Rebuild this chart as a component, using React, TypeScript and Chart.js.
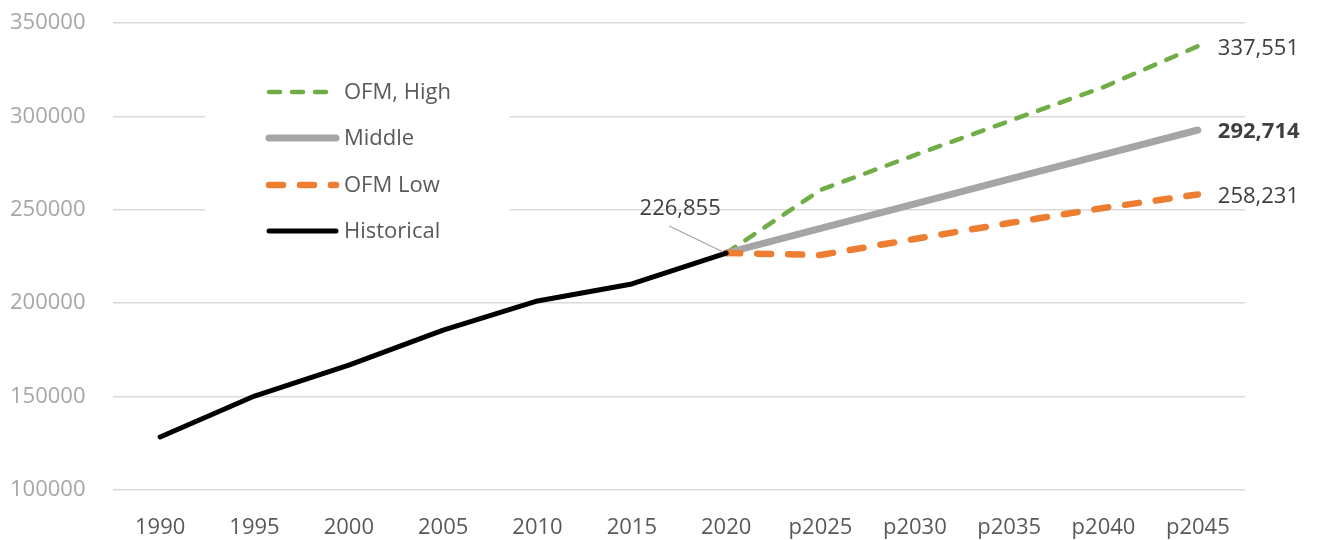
import React, { useEffect, useRef } from "react";
import { Chart, registerables } from "chart.js";
Chart.register(...registerables);

const years = ["1990", "1995", "2000", "2005", "2010", "2015", "2020", "p2025", "p2030", "p2035", "p2040", "p2045"];
const historical = [128400, 150300, 166900, 185600, 201200, 210300, 226855, null, null, null, null, null];
const ofmHigh = [null, null, null, null, null, null, 226855, 260600, 279300, 297500, 315700, 337551];
const middle = [null, null, null, null, null, null, 226855, 240000, 253200, 266400, 279500, 292714];
const ofmLow = [null, null, null, null, null, null, 226855, 225800, 234400, 242900, 251000, 258231];
const seriesNames = ["OFM, High", "Middle", "OFM Low", "Historical"];
const yMin = 100000;
const yMax = 350000;
const yStep = 50000;

const FONT = "'Open Sans', 'Noto Sans', sans-serif";

const fmt = (v: number) => v.toLocaleString("en-US");

const legendPlugin = {
  id: "customLegend",
  beforeDatasetsDraw(chart: any) {
    const ctx = chart.ctx;
    ctx.save();
    ctx.fillStyle = "#ffffff";
    ctx.fillRect(205, 66, 305, 186);
    const rowsY = [92, 138, 185, 231];
    [0, 1, 2, 3].forEach((di, i) => {
      const ds = chart.data.datasets[di];
      const y = rowsY[i];
      ctx.save();
      ctx.strokeStyle = ds.borderColor;
      ctx.lineWidth = ds.borderWidth;
      ctx.lineCap = "round";
      ctx.setLineDash(ds.borderDash || []);
      ctx.beginPath();
      ctx.moveTo(269, y);
      ctx.lineTo(336, y);
      ctx.stroke();
      ctx.restore();
      ctx.fillStyle = "#595959";
      ctx.font = `22px ${FONT}`;
      ctx.textBaseline = "middle";
      ctx.textAlign = "left";
      ctx.fillText(ds.label, 344, y + 1);
    });
    ctx.restore();
  },
};

const labelPlugin = {
  id: "valueLabels",
  afterDatasetsDraw(chart: any) {
    const ctx = chart.ctx;
    ctx.save();
    ctx.textBaseline = "middle";
    ctx.textAlign = "left";
    const last = years.length - 1;
    const ends: [number, number[], boolean][] = [
      [0, ofmHigh as number[], false],
      [1, middle as number[], true],
      [2, ofmLow as number[], false],
    ];
    ends.forEach(([di, arr, bold]) => {
      const pt = chart.getDatasetMeta(di).data[last];
      ctx.fillStyle = "#404040";
      ctx.font = `${bold ? "bold " : ""}22px ${FONT}`;
      ctx.fillText(fmt(arr[last]), pt.x + 20, pt.y + 2);
    });
    const idx = 6;
    const p = chart.getDatasetMeta(3).data[idx];
    ctx.strokeStyle = "#a6a6a6";
    ctx.lineWidth = 1.3;
    ctx.beginPath();
    ctx.moveTo(p.x - 57, p.y - 27);
    ctx.lineTo(p.x - 3, p.y - 1);
    ctx.stroke();
    ctx.fillStyle = "#404040";
    ctx.font = `22px ${FONT}`;
    ctx.textAlign = "center";
    ctx.fillText(fmt(historical[idx] as number), p.x - 46, p.y - 44);
    ctx.restore();
  },
};

export default function App() {
  const ref = useRef<HTMLCanvasElement>(null);
  useEffect(() => {
    document.body.style.margin = "0";
    const chart = new Chart(ref.current!, {
      type: "line",
      data: {
        labels: years,
        datasets: [
          {
            label: seriesNames[0],
            data: ofmHigh,
            borderColor: "#70ad47",
            borderWidth: 4.5,
            borderDash: [11, 12],
            borderCapStyle: "round",
            pointRadius: 0,
            order: 3,
          },
          {
            label: seriesNames[1],
            data: middle,
            borderColor: "#a5a5a5",
            borderWidth: 7,
            borderCapStyle: "round",
            pointRadius: 0,
            order: 2,
          },
          {
            label: seriesNames[2],
            data: ofmLow,
            borderColor: "#ed7d31",
            borderWidth: 6.5,
            borderDash: [14, 17],
            borderCapStyle: "round",
            pointRadius: 0,
            order: 1,
          },
          {
            label: seriesNames[3],
            data: historical,
            borderColor: "#000000",
            borderWidth: 5,
            borderCapStyle: "round",
            borderJoinStyle: "round",
            pointRadius: 0,
            order: 0,
          },
        ] as any,
      },
      options: {
        animation: false,
        responsive: false,
        spanGaps: false,
        layout: { padding: { left: 10, right: 75, top: 23, bottom: 0 } },
        plugins: { legend: { display: false }, tooltip: { enabled: false } },
        scales: {
          x: {
            offset: true,
            grid: { display: false },
            border: { display: false },
            ticks: { color: "#595959", font: { family: FONT, size: 22 }, padding: 17, maxRotation: 0, autoSkip: false },
            afterFit: (s: any) => { s.height = 50; },
          },
          y: {
            min: yMin,
            max: yMax,
            grid: { color: "#d9d9d9", lineWidth: 1.5, drawTicks: false },
            border: { display: false },
            ticks: {
              stepSize: yStep,
              color: "#a6a6a6",
              font: { family: FONT, size: 22 },
              padding: 0,
              crossAlign: "far",
              callback: (v: any) => String(v),
            },
            afterFit: (s: any) => { s.width = 103; },
          },
        },
      },
      plugins: [legendPlugin, labelPlugin],
    });
    return () => chart.destroy();
  }, []);
  return (
    <div style={{ position: "fixed", left: 0, top: 0, width: 1320, height: 540 }}>
      <canvas ref={ref} width={1320} height={540} style={{ width: 1320, height: 540 }} />
    </div>
  );
}
